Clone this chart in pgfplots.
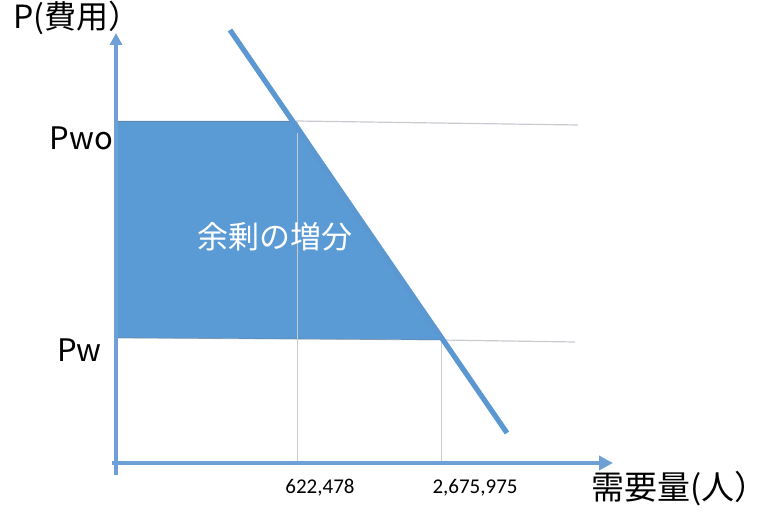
\documentclass[border=0pt]{standalone}
\usepackage{fontspec}
\setmainfont{Noto Sans CJK JP}
\newfontfamily\carlito{Carlito}
\usepackage{pgfplots}
\pgfplotsset{compat=1.18}
\usetikzlibrary{arrows.meta}
\definecolor{fillblue}{RGB}{91,155,213}
\definecolor{lineblue}{RGB}{91,152,210}
\definecolor{axblue}{RGB}{110,160,215}
\definecolor{gridgray}{RGB}{200,203,208}
\begin{document}
\begin{tikzpicture}
\begin{axis}[
  scale only axis, width=382.5pt, height=259.5pt,
  xmin=0, xmax=765, ymin=0, ymax=519,
  axis lines=none, ticks=none, clip=false,
]
\coordinate (ll) at (axis cs:0,0);
\coordinate (ur) at (axis cs:765,519);
% surplus area
\addplot[fill=fillblue, draw=none] coordinates {(116,398) (296,398) (441,179) (116,181)} -- cycle;
% price lines
\addplot[draw=gridgray, line width=0.6pt] coordinates {(296,398) (578,394)};
\addplot[draw=gridgray, line width=0.6pt] coordinates {(441,179) (575,177)};
\addplot[draw=black!60, line width=0.4pt, opacity=0.4] coordinates {(116,398) (296,398)};
\addplot[draw=black!60, line width=0.4pt, opacity=0.4] coordinates {(116,181) (441,179)};
% verticals
\addplot[draw=gridgray, line width=0.5pt] coordinates {(297,56) (297,397)};
\addplot[draw=gridgray, line width=0.5pt] coordinates {(441,56) (441,179)};
% axes
\addplot[axblue, line width=2pt, -{Triangle[length=7pt,width=7pt]}] coordinates {(112,56) (613,56)};
\addplot[axblue, line width=2pt, -{Triangle[length=6pt,width=6pt]}] coordinates {(116,44) (116,486)};
% demand line
\addplot[lineblue, line width=2.6pt] coordinates {(230,489) (507,86)};
% labels
\node[anchor=west, font=\fontsize{16}{18}\selectfont] at (axis cs:6,501) {P(費用）};
\node[anchor=east, font=\fontsize{15.5}{18}\selectfont] at (axis cs:120,381) {Pwo};
\node[anchor=west, font=\fontsize{15.5}{18}\selectfont] at (axis cs:50,169) {Pw};
\node[font=\carlito\fontsize{10.5}{12}\selectfont] at (axis cs:320,31) {622,478};
\node[font=\carlito\fontsize{10.5}{12}\selectfont] at (axis cs:475,31) {2,675,975};
\node[anchor=west, font=\fontsize{16.5}{19}\selectfont] at (axis cs:584,30) {需要量(人）};
\node[text=white, font=\fontsize{15.5}{18}\selectfont] at (axis cs:275,282) {余剰の増分};
\end{axis}
\pgfresetboundingbox
\useasboundingbox (ll) rectangle (ur);
\end{tikzpicture}
\end{document}
